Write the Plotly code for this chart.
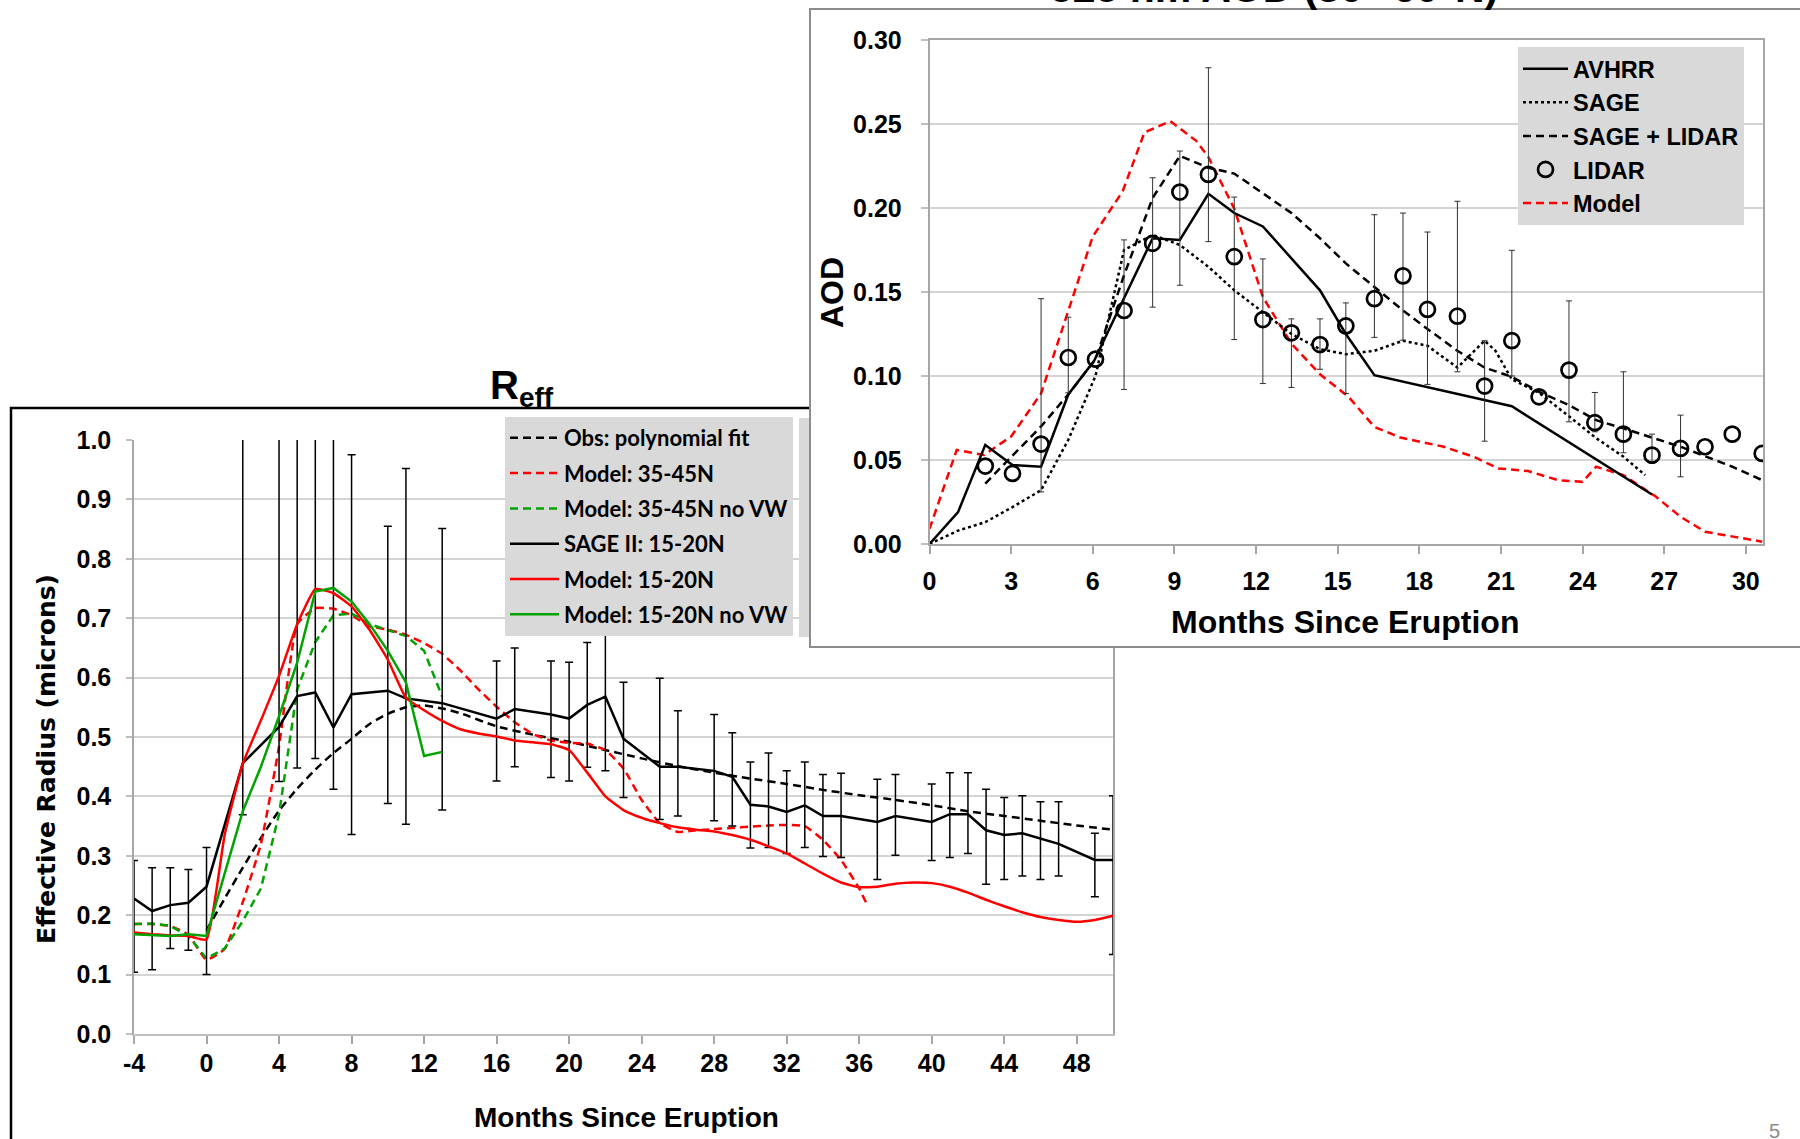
import plotly.graph_objects as go

W, H = 1800, 1139

# ---------------- Effective radius (left panel) ----------------
sage_months = [-4, -3, -2, -1, 0, 2, 4, 5, 6, 7, 8, 10, 11, 13, 16, 17, 19, 20, 21, 22, 23,
               25, 26, 28, 29, 30, 31, 32, 33, 34, 35, 37, 38, 40, 41, 42, 43, 44, 45, 46, 47, 49, 50]
sage_reff = [0.228, 0.207, 0.217, 0.221, 0.248, 0.456, 0.517, 0.569, 0.575, 0.516, 0.572,
             0.578, 0.565, 0.557, 0.531, 0.547, 0.538, 0.531, 0.554, 0.568, 0.497,
             0.450, 0.450, 0.443, 0.433, 0.386, 0.383, 0.374, 0.385, 0.367, 0.367,
             0.357, 0.367, 0.357, 0.370, 0.370, 0.343, 0.335, 0.338, 0.329, 0.320,
             0.293, 0.293]
sage_reff_hi = [0.292, 0.280, 0.280, 0.277, 0.314, 1.1, 1.1, 1.1, 1.1, 1.1, 0.975,
                0.855, 0.952, 0.851, 0.628, 0.650, 0.628, 0.626, 0.659, 0.690, 0.592,
                0.599, 0.544, 0.538, 0.507, 0.458, 0.473, 0.443, 0.458, 0.437, 0.439,
                0.429, 0.437, 0.421, 0.440, 0.440, 0.412, 0.398, 0.401, 0.391, 0.391,
                0.338, 0.401]
sage_reff_lo = [0.104, 0.108, 0.144, 0.141, 0.100, 0.369, 0.425, 0.448, 0.464, 0.412, 0.336,
                0.388, 0.353, 0.377, 0.426, 0.450, 0.432, 0.426, 0.449, 0.443, 0.398,
                0.361, 0.367, 0.359, 0.350, 0.313, 0.314, 0.304, 0.314, 0.299, 0.297,
                0.260, 0.301, 0.292, 0.297, 0.304, 0.252, 0.260, 0.266, 0.260, 0.266,
                0.231, 0.134]

poly_months = [0, 1, 2, 3, 4, 5, 6, 7, 8, 9, 10, 11, 12, 13, 14, 16, 18, 20, 22, 24, 26, 28,
               30, 32, 34, 36, 38, 40, 42, 44, 46, 48, 50]
poly_reff = [0.175, 0.228, 0.280, 0.330, 0.376, 0.413, 0.445, 0.473, 0.497, 0.522, 0.539,
             0.550, 0.553, 0.548, 0.540, 0.518, 0.504, 0.492, 0.478, 0.464, 0.451, 0.440,
             0.430, 0.421, 0.411, 0.402, 0.394, 0.385, 0.375, 0.367, 0.359, 0.351, 0.344]

model_months = list(range(-4, 51))
model_15_20 = [0.171, 0.168, 0.166, 0.165, 0.159,
               0.335, 0.455, 0.528, 0.603, 0.690,
               0.749, 0.742, 0.720, 0.680, 0.630,
               0.566, 0.545, 0.527, 0.513, 0.506,
               0.501, 0.494, 0.491, 0.488, 0.478,
               0.440, 0.400, 0.377, 0.364, 0.355,
               0.348, 0.344, 0.341, 0.335, 0.327,
               0.316, 0.304, 0.287, 0.270, 0.255,
               0.247, 0.248, 0.253, 0.255, 0.254,
               0.248, 0.238, 0.226, 0.215, 0.205,
               0.197, 0.192, 0.189, 0.192, 0.199]

model_35_45_months = list(range(-4, 37)) + [36.4]
model_35_45 = [0.185, 0.185, 0.182, 0.167, 0.125,
               0.143, 0.222, 0.320, 0.484, 0.690,
               0.717, 0.716, 0.705, 0.686, 0.681,
               0.672, 0.658, 0.640, 0.612, 0.580,
               0.551, 0.525, 0.505, 0.494, 0.490,
               0.489, 0.478, 0.447, 0.394, 0.355,
               0.340, 0.343, 0.345, 0.347, 0.349,
               0.351, 0.352, 0.350, 0.327, 0.293,
               0.245, 0.220]

novw_months = list(range(-4, 14))
model_35_45_novw = [0.185, 0.186, 0.182, 0.165, 0.127, 0.144, 0.190, 0.245, 0.370,
                    0.580, 0.660, 0.705, 0.708, 0.690, 0.680, 0.670, 0.645, 0.568]
model_15_20_novw = [0.168, 0.166, 0.165, 0.168, 0.165, 0.270, 0.375, 0.450, 0.535,
                    0.625, 0.745, 0.751, 0.728, 0.690, 0.645, 0.592, 0.468, 0.475]

reff_ticks_x = [-4, 0, 4, 8, 12, 16, 20, 24, 28, 32, 36, 40, 44, 48]

# ---------------- 525 nm AOD (right panel) ----------------
avhrr_months = [0, 1.05, 2.05, 3.05, 4.1, 5.1, 6.05, 8.2, 9.2, 10.25, 11.2, 12.25,
                14.35, 15.3, 16.35, 21.4, 26.55]
avhrr_aod = [0.0, 0.019, 0.059, 0.047, 0.046, 0.089, 0.109, 0.182, 0.181, 0.2085, 0.197,
             0.189, 0.151, 0.125, 0.1005, 0.082, 0.0295]

sage_aod_months = [0, 1.05, 2.05, 3.05, 4.1, 5.1, 6.1, 7.15, 8.2, 9.2, 10.25, 11.2, 12.25,
                   13.3, 14.35, 15.3, 16.35, 17.4, 18.3, 19.4, 20.4, 20.8, 21.4, 22.4, 23.5,
                   24.5, 25.5, 26.3]
sage_aod = [0.0, 0.008, 0.013, 0.022, 0.032, 0.062, 0.100, 0.175, 0.184, 0.178, 0.165,
            0.151, 0.138, 0.125, 0.116, 0.113, 0.115, 0.121, 0.118, 0.105, 0.121, 0.115,
            0.098, 0.090, 0.076, 0.063, 0.052, 0.041]

sl_months = [2.05, 4.1, 5.1, 6.1, 7.15, 8.2, 9.2, 10.25, 11.2, 12.25, 13.3, 14.35, 15.3,
             16.35, 17.4, 18.3, 19.4, 20.4, 21.4, 22.4, 23.5, 24.5, 25.5, 27.6, 29.5, 30.6]
sl_aod = [0.036, 0.070, 0.089, 0.110, 0.160, 0.206, 0.231, 0.224, 0.2205, 0.2085, 0.197,
          0.182, 0.167, 0.153, 0.139, 0.128, 0.115, 0.105, 0.0995, 0.0906, 0.0827, 0.0737,
          0.0688, 0.0579, 0.046, 0.038]

lidar_months = [2.05, 3.05, 4.1, 5.1, 6.1, 7.15, 8.2, 9.2, 10.25, 11.2, 12.25, 13.3, 14.35,
                15.3, 16.35, 17.4, 18.3, 19.4, 20.4, 21.4, 22.4, 23.5, 24.45, 25.5, 26.55,
                27.6, 28.5, 29.5, 30.6]
lidar_aod = [0.0464, 0.042, 0.0595, 0.111, 0.110, 0.139, 0.179, 0.2095, 0.220, 0.171,
             0.1336, 0.1257, 0.1187, 0.1298, 0.146, 0.1596, 0.1396, 0.1356, 0.094, 0.121,
             0.0876, 0.1035, 0.0722, 0.0654, 0.0529, 0.0569, 0.0579, 0.0654, 0.0539]
lidar_hi = [None, None, 0.146, 0.135, None, 0.181, 0.218, 0.2339, 0.2835, 0.2065, 0.1697,
            0.134, 0.134, 0.1435, 0.196, 0.197, 0.1857, 0.204, 0.121, 0.1748, None, 0.1447,
            0.0902, 0.1025, 0.0654, 0.0767, None, None, None]
lidar_lo = [None, None, 0.031, 0.090, None, 0.092, 0.141, 0.154, 0.180, 0.1217, 0.0955,
            0.0932, 0.104, 0.0896, 0.123, 0.1213, 0.095, 0.1025, 0.0612, 0.100, None, 0.0727,
            0.0668, 0.0543, 0.048, 0.040, None, None, None]

aod_model_months = [0, 1.0, 2.0, 3.0, 4.1, 5.1, 6.0, 7.1, 7.9, 8.85, 9.8, 10.25, 11.2, 12.25,
                    13.3, 14.35, 15.4, 16.35, 17.3, 18.9, 20.0, 20.9, 22.0, 23.1, 24.0, 24.5,
                    25.5, 26.7, 27.6, 28.5, 30.0, 30.6]
aod_model = [0.009, 0.056, 0.053, 0.064, 0.0896, 0.139, 0.183, 0.210, 0.245, 0.2517, 0.240,
             0.2303, 0.1996, 0.147, 0.1193, 0.101, 0.0876, 0.0697, 0.0634, 0.0579, 0.0519,
             0.045, 0.0434, 0.038, 0.037, 0.046, 0.041, 0.0281, 0.0162, 0.0073, 0.0034, 0.0014]

RED = "#ff0000"
GREEN = "#00a300"
DASH = "8px,5px"
ARIAL = "Liberation Sans"


def px(x):
    return x / W


def py(y):
    return 1 - y / H


fig = go.Figure()

# ---- left panel traces ----
left = dict(xaxis="x", yaxis="y", legend="legend", hoverinfo="skip")
fig.add_trace(go.Scatter(x=poly_months, y=poly_reff, mode="lines", name="Obs: polynomial fit",
                         line=dict(color="black", width=2.5, dash=DASH, shape="spline", smoothing=0.6),
                         legendgroup="g1", legendrank=1, **left))
fig.add_trace(go.Scatter(x=model_35_45_months, y=model_35_45, mode="lines", name="Model: 35-45N",
                         line=dict(color=RED, width=2.5, dash=DASH, shape="spline", smoothing=0.4),
                         legendgroup="g2", legendrank=2, **left))
fig.add_trace(go.Scatter(x=novw_months, y=model_35_45_novw, mode="lines", name="Model: 35-45N no VW",
                         line=dict(color=GREEN, width=2.5, dash=DASH),
                         legendgroup="g3", legendrank=3, **left))
fig.add_trace(go.Scatter(x=sage_months, y=sage_reff, mode="lines", name="SAGE II: 15-20N",
                         line=dict(color="black", width=2.5),
                         error_y=dict(type="data", symmetric=False,
                                      array=[h - v for h, v in zip(sage_reff_hi, sage_reff)],
                                      arrayminus=[v - l for v, l in zip(sage_reff, sage_reff_lo)],
                                      color="black", thickness=1.5, width=4),
                         legendgroup="g4", legendrank=4, **left))
fig.add_trace(go.Scatter(x=model_months, y=model_15_20, mode="lines", name="Model: 15-20N",
                         line=dict(color=RED, width=2.5, shape="spline", smoothing=0.4),
                         legendgroup="g5", legendrank=5, **left))
fig.add_trace(go.Scatter(x=novw_months, y=model_15_20_novw, mode="lines", name="Model: 15-20N no VW",
                         line=dict(color=GREEN, width=2.5),
                         legendgroup="g6", legendrank=6, **left))

# ---- blank white panel that sits over the upper right of the left chart ----
fig.add_trace(go.Scatter(x=[], y=[], xaxis="x2", yaxis="y2", showlegend=False, hoverinfo="skip"))

# ---- right panel traces ----
right = dict(xaxis="x3", yaxis="y3", legend="legend2", hoverinfo="skip")
fig.add_trace(go.Scatter(x=aod_model_months, y=aod_model, mode="lines", name="Model",
                         line=dict(color=RED, width=2.5, dash=DASH),
                         legendgroup="r5", legendrank=5, **right))
fig.add_trace(go.Scatter(x=sl_months, y=sl_aod, mode="lines", name="SAGE + LIDAR",
                         line=dict(color="black", width=2.5, dash=DASH),
                         legendgroup="r3", legendrank=3, **right))
fig.add_trace(go.Scatter(x=sage_aod_months, y=sage_aod, mode="lines", name="SAGE",
                         line=dict(color="black", width=2.5, dash="3px,3px"),
                         legendgroup="r2", legendrank=2, **right))
fig.add_trace(go.Scatter(x=avhrr_months, y=avhrr_aod, mode="lines", name="AVHRR",
                         line=dict(color="black", width=2.5),
                         legendgroup="r1", legendrank=1, **right))

err_idx = [i for i, h in enumerate(lidar_hi) if h is not None]
fig.add_trace(go.Scatter(x=[lidar_months[i] for i in err_idx], y=[lidar_aod[i] for i in err_idx],
                         mode="markers", marker=dict(size=1, opacity=0), showlegend=False,
                         error_y=dict(type="data", symmetric=False,
                                      array=[lidar_hi[i] - lidar_aod[i] for i in err_idx],
                                      arrayminus=[lidar_aod[i] - lidar_lo[i] for i in err_idx],
                                      color="#303030", thickness=1, width=3),
                         **right))
fig.add_trace(go.Scatter(x=lidar_months, y=lidar_aod, mode="markers", name="LIDAR",
                         marker=dict(symbol="circle-open", size=15, color="black",
                                     line=dict(width=2.7, color="black")),
                         legendgroup="r4", legendrank=4, **right))

tick_font = dict(family=ARIAL, size=25, color="black", weight="bold")

fig.update_layout(
    width=W, height=H, autosize=False,
    margin=dict(l=0, r=0, t=0, b=0, autoexpand=False),
    paper_bgcolor="white", plot_bgcolor="white",
    showlegend=True,
    xaxis=dict(domain=[px(134), px(1113)], range=[-4, 50], anchor="y",
               tickmode="array", tickvals=reff_ticks_x, ticktext=[str(t) for t in reff_ticks_x],
               ticks="outside", ticklen=8, tickwidth=1.5, tickcolor="#a6a6a6",
               showline=True, linecolor="#bfbfbf", linewidth=2,
               showgrid=False, zeroline=False, tickfont=tick_font, ticklabelstandoff=-2),
    yaxis=dict(domain=[py(1034), py(440)], range=[0, 1], anchor="x",
               tickmode="linear", tick0=0, dtick=0.1, tickformat=".1f",
               ticks="outside", ticklen=6, tickwidth=1.5, tickcolor="#bfbfbf",
               showgrid=True, gridcolor="#d4d4d4", gridwidth=2,
               showline=True, mirror=True, linecolor="#a6a6a6", linewidth=1.5,
               zeroline=False, tickfont=tick_font, ticklabelstandoff=10),
    xaxis2=dict(domain=[px(810), 1.0], range=[0, 1], anchor="y2", visible=False),
    yaxis2=dict(domain=[py(647), py(9)], range=[0, 1], anchor="x2", visible=False),
    xaxis3=dict(domain=[px(929.5), px(1763)], range=[0, 30.63], anchor="y3",
                tickmode="linear", tick0=0, dtick=3,
                ticks="outside", ticklen=8, tickwidth=1.5, tickcolor="#a6a6a6",
                showline=True, mirror=True, linecolor="#a6a6a6", linewidth=1.5,
                showgrid=False, zeroline=False, tickfont=tick_font, ticklabelstandoff=6),
    yaxis3=dict(domain=[py(544), py(40)], range=[0, 0.3], anchor="x3",
                tickmode="linear", tick0=0, dtick=0.05, tickformat=".2f",
                ticks="outside", ticklen=7, tickwidth=1.5, tickcolor="#bfbfbf",
                showgrid=True, gridcolor="#d4d4d4", gridwidth=2,
                showline=True, mirror=True, linecolor="#a6a6a6", linewidth=1.5,
                zeroline=False, tickfont=tick_font, ticklabelstandoff=14),
    legend=dict(x=px(505), y=py(417), xanchor="left", yanchor="top",
                bgcolor="#d9d9d9", borderwidth=0, itemwidth=49, tracegroupgap=3.7,
                traceorder="grouped", itemclick=False, itemdoubleclick=False,
                font=dict(family="Lato", size=22, color="black", weight="bold")),
    legend2=dict(x=px(1518), y=py(47), xanchor="left", yanchor="top",
                 bgcolor="#d9d9d9", borderwidth=0, itemwidth=45, tracegroupgap=0,
                 traceorder="grouped", itemclick=False, itemdoubleclick=False,
                 font=dict(family=ARIAL, size=23.5, color="black", weight="bold")),
)

# Frames around the two panels
fig.add_shape(type="rect", xref="paper", yref="paper", x0=px(11), x1=1.3, y0=-0.3, y1=py(408),
              line=dict(color="black", width=2.5), fillcolor="rgba(0,0,0,0)", layer="below")
fig.add_shape(type="rect", xref="paper", yref="paper", x0=px(799), x1=px(809), y0=py(637), y1=py(418),
              line=dict(width=0), fillcolor="#d9d9d9", layer="above")
fig.add_shape(type="rect", xref="paper", yref="paper", x0=px(810), x1=1.05, y0=py(647), y1=py(9),
              line=dict(color="#8c8c8c", width=2), fillcolor="rgba(0,0,0,0)", layer="above")


def label(text, x, y, size, family=ARIAL, angle=0, color="black", weight="bold",
          xanchor="center", yanchor="middle"):
    fig.add_annotation(text=text, x=px(x), y=py(y), xref="paper", yref="paper",
                       showarrow=False, textangle=angle, xanchor=xanchor, yanchor=yanchor,
                       font=dict(family=family, size=size, color=color, weight=weight))


label("R<sub>eff</sub>", 522, 388, 40)
label("Effective Radius (microns)", 46, 759, 25, family="DejaVu Sans", angle=-90)
label("Months Since Eruption", 626, 1117, 28)
label("AOD", 832, 293, 32, angle=-90)
label("Months Since Eruption", 1345, 622, 32)
label("525 nm AOD (30°-60°N)", 1274, 13, 41, yanchor="bottom")
label("5", 1774, 1144, 20, color="#8c8c8c", weight="normal", yanchor="bottom")

# the page holds only the figure: no body margin, no scrollbars
fig.write_html("out.html", config={"displayModeBar": False},
               post_script="document.body.style.margin='0';document.body.style.overflow='hidden';")
